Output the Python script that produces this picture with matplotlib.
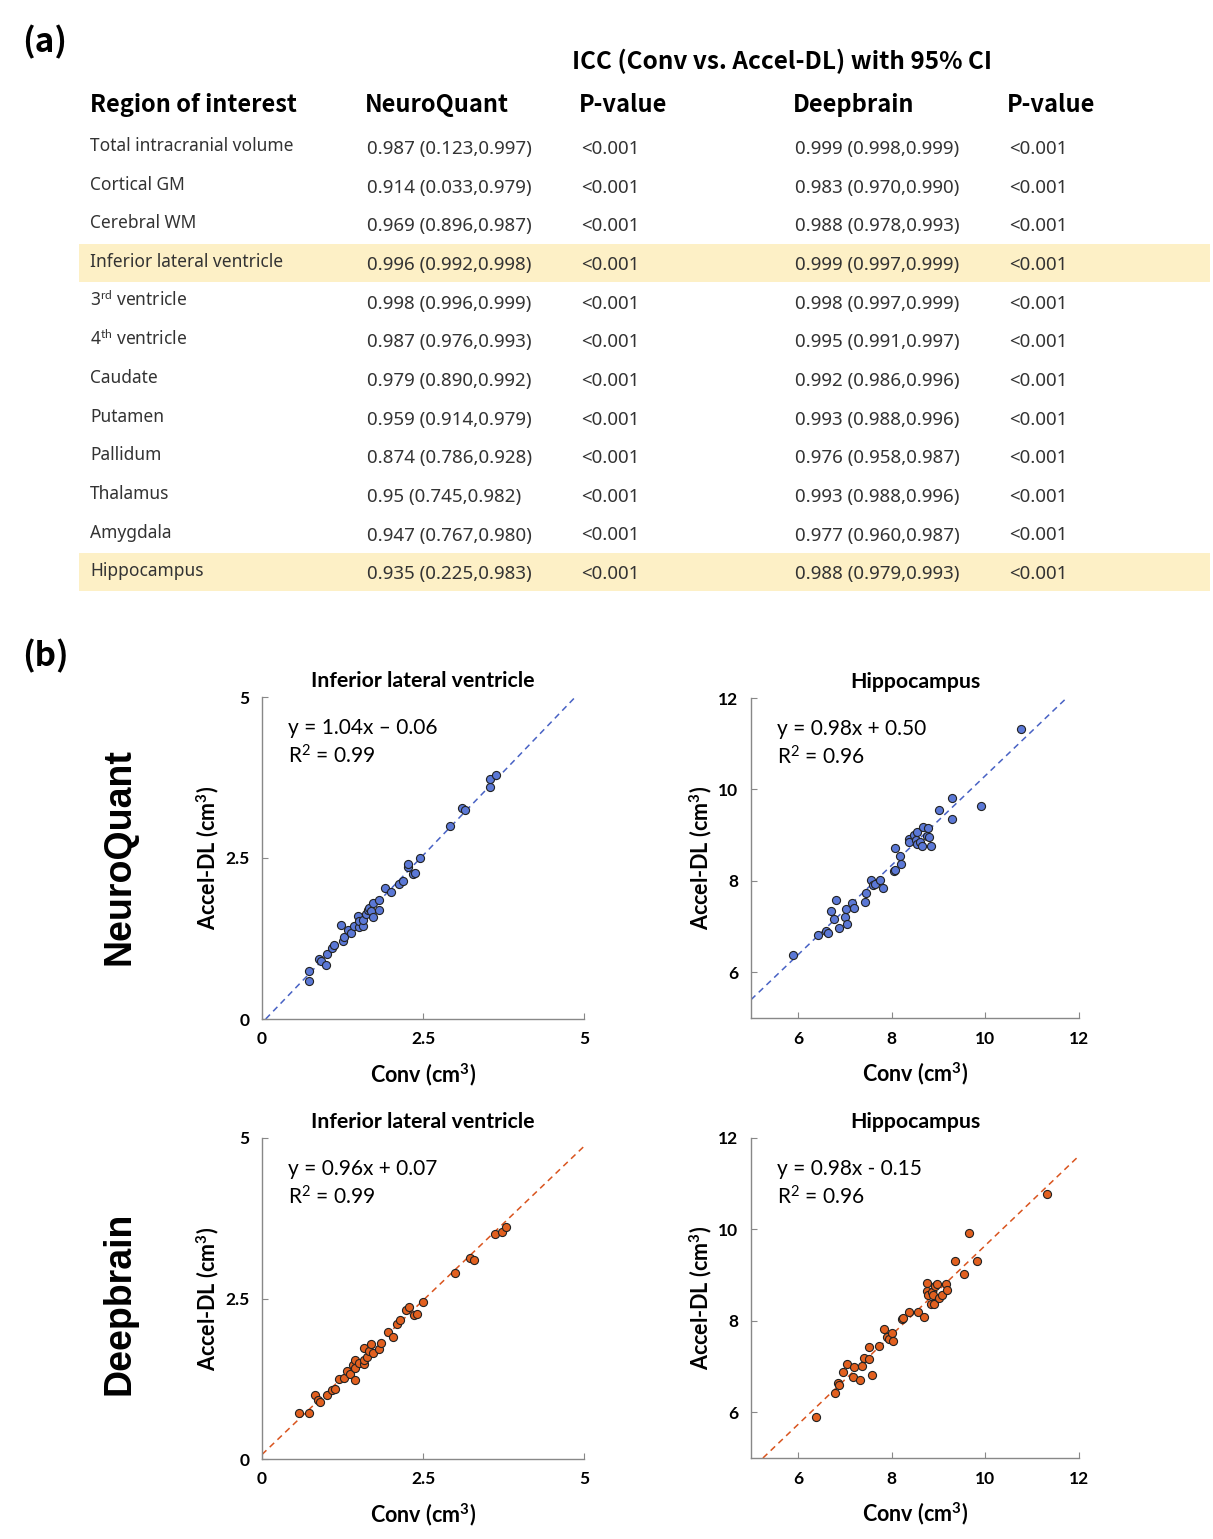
import matplotlib
matplotlib.use("Agg")
import matplotlib.pyplot as plt
from matplotlib.patches import Rectangle

plt.rcParams['mathtext.fontset'] = 'custom'
plt.rcParams['mathtext.rm'] = 'Lato'
plt.rcParams['mathtext.it'] = 'Lato:italic'
plt.rcParams['mathtext.bf'] = 'Lato:bold'

# ---------------- Table data ----------------
table_title = "ICC (Conv vs. Accel-DL) with 95% CI"
col_headers = ["Region of interest", "NeuroQuant", "P-value", "Deepbrain", "P-value"]
regions = ["Total intracranial volume", "Cortical GM", "Cerebral WM",
           "Inferior lateral ventricle", r"3$^{\rm rd}$ ventricle", r"4$^{\rm th}$ ventricle",
           "Caudate", "Putamen", "Pallidum", "Thalamus", "Amygdala", "Hippocampus"]
nq_icc = ["0.987 (0.123,0.997)", "0.914 (0.033,0.979)", "0.969 (0.896,0.987)",
          "0.996 (0.992,0.998)", "0.998 (0.996,0.999)", "0.987 (0.976,0.993)",
          "0.979 (0.890,0.992)", "0.959 (0.914,0.979)", "0.874 (0.786,0.928)",
          "0.95 (0.745,0.982)", "0.947 (0.767,0.980)", "0.935 (0.225,0.983)"]
nq_p = ["<0.001"] * 12
db_icc = ["0.999 (0.998,0.999)", "0.983 (0.970,0.990)", "0.988 (0.978,0.993)",
          "0.999 (0.997,0.999)", "0.998 (0.997,0.999)", "0.995 (0.991,0.997)",
          "0.992 (0.986,0.996)", "0.993 (0.988,0.996)", "0.976 (0.958,0.987)",
          "0.993 (0.988,0.996)", "0.977 (0.960,0.987)", "0.988 (0.979,0.993)"]
db_p = ["<0.001"] * 12
highlight_rows = [3, 11]

# ---------------- Scatter data ----------------
nq_ilv_x = [0.736, 0.736, 0.891, 0.917, 0.995, 1.005, 1.088, 1.114, 1.254, 1.280, 1.233, 1.337,
            1.383, 1.435, 1.487, 1.503, 1.513, 1.575, 1.575, 1.617, 1.642, 1.668, 1.694, 1.731,
            1.720, 1.813, 1.813, 1.917, 2.005, 2.124, 2.187, 2.264, 2.264, 2.342, 2.383, 2.461,
            2.912, 3.104, 3.145, 3.534, 3.544, 3.637]
nq_ilv_y = [0.741, 0.585, 0.933, 0.896, 0.839, 1.010, 1.098, 1.150, 1.207, 1.269, 1.466, 1.383,
            1.337, 1.451, 1.596, 1.430, 1.518, 1.451, 1.544, 1.637, 1.689, 1.725, 1.674, 1.585,
            1.803, 1.845, 1.699, 2.036, 1.969, 2.104, 2.140, 2.363, 2.409, 2.244, 2.269, 2.497,
            2.995, 3.280, 3.238, 3.601, 3.731, 3.782]

nq_hc_x = [5.894, 6.426, 6.603, 6.645, 6.709, 6.766, 6.823, 6.879, 7.007, 7.035, 7.057, 7.156,
           7.191, 7.426, 7.461, 7.567, 7.603, 7.638, 7.745, 7.816, 8.043, 8.064, 8.078, 8.184,
           8.199, 8.362, 8.376, 8.468, 8.539, 8.525, 8.539, 8.610, 8.645, 8.667, 8.766, 8.787,
           8.801, 8.837, 9.014, 9.298, 9.298, 9.908, 10.759]
nq_hc_y = [6.385, 6.807, 6.895, 6.858, 7.331, 7.171, 7.585, 6.960, 7.200, 7.382, 7.055, 7.513,
           7.396, 7.527, 7.724, 8.015, 7.913, 7.927, 8.015, 7.833, 8.218, 8.240, 8.713, 8.553,
           8.378, 8.924, 8.858, 9.004, 9.062, 8.895, 8.800, 8.858, 8.764, 9.185, 8.989, 9.164,
           8.967, 8.764, 9.549, 9.818, 9.353, 9.644, 11.331]

db_ilv_x = [0.570, 0.736, 0.824, 0.865, 0.907, 1.005, 1.088, 1.135, 1.202, 1.269, 1.326, 1.373,
            1.409, 1.451, 1.451, 1.451, 1.503, 1.580, 1.591, 1.591, 1.627, 1.658, 1.694, 1.720,
            1.813, 1.850, 1.964, 2.031, 2.104, 2.150, 2.238, 2.275, 2.358, 2.404, 2.497, 2.990,
            3.223, 3.290, 3.611, 3.731, 3.793]
db_ilv_y = [0.715, 0.715, 0.990, 0.922, 0.881, 0.990, 1.078, 1.098, 1.244, 1.259, 1.373, 1.321,
            1.466, 1.223, 1.544, 1.415, 1.492, 1.725, 1.477, 1.544, 1.596, 1.689, 1.793, 1.648,
            1.715, 1.803, 1.984, 1.907, 2.098, 2.166, 2.316, 2.363, 2.244, 2.254, 2.440, 2.902,
            3.124, 3.093, 3.508, 3.534, 3.617]

db_hc_x = [6.383, 6.801, 6.858, 6.887, 6.965, 7.050, 7.177, 7.191, 7.319, 7.369, 7.404, 7.511,
           7.525, 7.582, 7.723, 7.844, 7.901, 7.936, 8.007, 8.021, 8.220, 8.234, 8.376, 8.560,
           8.702, 8.752, 8.752, 8.787, 8.837, 8.858, 8.894, 8.915, 8.929, 8.979, 9.014, 9.071,
           9.156, 9.191, 9.355, 9.546, 9.645, 9.816, 11.326]
db_hc_y = [5.891, 6.415, 6.633, 6.596, 6.887, 7.055, 6.764, 6.996, 6.705, 7.018, 7.178, 7.156,
           7.425, 6.815, 7.455, 7.825, 7.636, 7.600, 7.738, 7.564, 8.036, 8.065, 8.189, 8.189,
           8.087, 8.836, 8.655, 8.560, 8.378, 8.633, 8.560, 8.364, 8.764, 8.800, 8.502, 8.560,
           8.800, 8.676, 9.309, 9.025, 9.913, 9.309, 10.778]

fits = {  # slope, intercept, x-range of drawn line
    "nq_ilv": (1.04, -0.06, (0.058, 4.86)),
    "nq_hc": (0.98, 0.50, (5.0, 11.73)),
    "db_ilv": (0.96, 0.07, (0.0, 5.0)),
    "db_hc": (0.98, -0.15, (5.255, 12.0)),
}
eq_text = {
    "nq_ilv": "y = 1.04x \u2013 0.06\nR$^2$ = 0.99",
    "nq_hc": "y = 0.98x + 0.50\nR$^2$ = 0.96",
    "db_ilv": "y = 0.96x + 0.07\nR$^2$ = 0.99",
    "db_hc": "y = 0.98x - 0.15\nR$^2$ = 0.96",
}

W, H = 1213, 1539
fig = plt.figure(figsize=(W / 100, H / 100), dpi=100)
fig.patch.set_facecolor("white")

# ---------------- Table (pixel coordinate overlay) ----------------
tab = fig.add_axes([0, 0, 1, 1])
tab.set_xlim(0, W)
tab.set_ylim(H, 0)
tab.axis("off")

tfont = "Noto Sans CJK KR"
tab.text(22, 42, "(a)", fontsize=24, fontweight="bold", family=tfont, va="center", ha="left")
tab.text(22, 656, "(b)", fontsize=24, fontweight="bold", family=tfont, va="center", ha="left")
tab.text(782, 61, table_title, fontsize=17.5, fontweight="bold", family=tfont, va="center", ha="center")

col_x = [90, 365, 579, 793, 1007]
for cx, h in zip(col_x, col_headers):
    tab.text(cx, 105, h, fontsize=17, fontweight="bold", family=tfont, va="center", ha="left")

row_y0, row_dy = 146, 38.65
for i in range(len(regions)):
    yc = row_y0 + i * row_dy
    if i in highlight_rows:
        tab.add_patch(Rectangle((79, yc - 18), 1131, 38, facecolor="#fdf0c6", edgecolor="none", zorder=0))
    tc = "#333333"
    tab.text(90, yc, regions[i], fontsize=12.5, family="Noto Sans", color=tc, va="center", ha="left")
    tab.text(367, yc + 3, nq_icc[i], fontsize=13.5, family="Noto Sans", color=tc, va="center", ha="left")
    tab.text(581, yc + 3, nq_p[i], fontsize=13.5, family="Noto Sans", color=tc, va="center", ha="left")
    tab.text(795, yc + 3, db_icc[i], fontsize=13.5, family="Noto Sans", color=tc, va="center", ha="left")
    tab.text(1009, yc + 3, db_p[i], fontsize=13.5, family="Noto Sans", color=tc, va="center", ha="left")

tab.text(120, 857, "NeuroQuant", fontsize=27, fontweight="bold", family="Liberation Sans",
         rotation=90, va="center", ha="center")
tab.text(120, 1303, "Deepbrain", fontsize=27, fontweight="bold", family="Liberation Sans",
         rotation=90, va="center", ha="center")

# ---------------- Scatter panels ----------------
blue_face, blue_line = "#5b78d6", "#4862c4"
orange_face, orange_line = "#e2601f", "#d9541e"

def make_ax(l, t, w, h):
    return fig.add_axes([l / W, (H - t - h) / H, w / W, h / H])

panels = [
    ("nq_ilv", make_ax(262, 697, 322, 322), nq_ilv_x, nq_ilv_y, (0, 5), [0, 2.5, 5], ["0", "2.5", "5"],
     "Inferior lateral ventricle", blue_face, blue_line),
    ("nq_hc", make_ax(751, 698, 328, 320), nq_hc_x, nq_hc_y, (5, 12), [6, 8, 10, 12], ["6", "8", "10", "12"],
     "Hippocampus", blue_face, blue_line),
    ("db_ilv", make_ax(262, 1138, 322, 321), db_ilv_x, db_ilv_y, (0, 5), [0, 2.5, 5], ["0", "2.5", "5"],
     "Inferior lateral ventricle", orange_face, orange_line),
    ("db_hc", make_ax(751, 1138, 328, 320), db_hc_x, db_hc_y, (5, 12), [6, 8, 10, 12], ["6", "8", "10", "12"],
     "Hippocampus", orange_face, orange_line),
]

for key, ax, xs, ys, lim, ticks, tlabels, title, fc, lc in panels:
    s, b, (x0, x1) = fits[key]
    ax.plot([x0, x1], [s * x0 + b, s * x1 + b], linestyle=(0, (4, 3)), color=lc, linewidth=1.1, zorder=2)
    ax.scatter(xs, ys, s=34, facecolor=fc, edgecolor="#222222", linewidth=0.8, zorder=3)
    ax.set_xlim(*lim)
    ax.set_ylim(*lim)
    ax.set_xticks(ticks)
    ax.set_yticks(ticks)
    ax.set_xticklabels(tlabels, fontsize=12.5, fontweight="bold", family="Lato")
    ax.set_yticklabels(tlabels, fontsize=12.5, fontweight="bold", family="Lato")
    for sp in ["top", "right"]:
        ax.spines[sp].set_visible(False)
    for sp in ["left", "bottom"]:
        ax.spines[sp].set_color("#888888")
        ax.spines[sp].set_linewidth(1.0)
    ax.tick_params(direction="in", length=4, color="#888888", pad=9)
    ax.set_title(title, fontsize=15.3, fontweight="bold", family="Lato", pad=7)
    ax.set_xlabel(r"Conv (cm$^{\mathbf{3}}$)", fontsize=15.5, fontweight="bold", family="Lato", labelpad=10)
    ax.set_ylabel(r"Accel-DL (cm$^{\mathbf{3}}$)", fontsize=15.5, fontweight="bold", family="Lato", labelpad=3)
    ax.text(0.08, 0.935, eq_text[key], transform=ax.transAxes, fontsize=15, family="Lato",
            va="top", ha="left", linespacing=1.35)

fig.savefig("out.png", dpi=100)
